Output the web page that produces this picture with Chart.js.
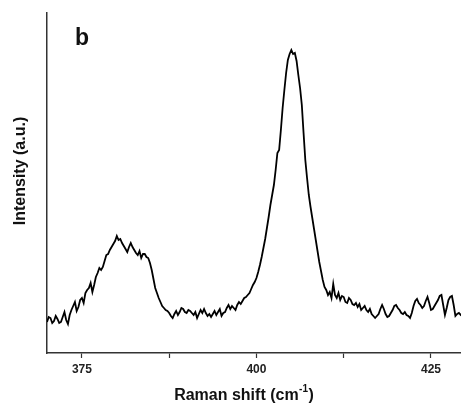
<!DOCTYPE html>
<html>
<head>
<meta charset="utf-8">
<script src="https://cdn.jsdelivr.net/npm/chart.js@4"></script>
<style>
html,body{margin:0;padding:0;background:#fff;}
#wrap{width:461px;height:403px;}
</style>
</head>
<body>
<div id="wrap"><canvas id="c" width="461" height="403"></canvas></div>
<script>
const ramanShift = [
370,370.25,370.5,370.75,371,371.25,371.5,371.75,372,372.25,372.5,372.75,373,373.25,373.5,373.75,374,374.25,374.5,374.75,
375,375.25,375.5,375.75,376,376.25,376.5,376.75,377,377.25,377.5,377.75,378,378.25,378.5,378.75,379,379.25,379.5,379.75,
380,380.25,380.5,380.75,381,381.25,381.5,381.75,382,382.25,382.5,382.75,383,383.25,383.5,383.75,384,384.25,384.5,384.75,
385,385.25,385.5,385.75,386,386.25,386.5,386.75,387,387.25,387.5,387.75,388,388.25,388.5,388.75,389,389.25,389.5,389.75,
390,390.25,390.5,390.75,391,391.25,391.5,391.75,392,392.25,392.5,392.75,393,393.25,393.5,393.75,394,394.25,394.5,394.75,
395,395.25,395.5,395.75,396,396.25,396.5,396.75,397,397.25,397.5,397.75,398,398.25,398.5,398.75,399,399.25,399.5,399.75,
400,400.25,400.5,400.75,401,401.25,401.5,401.75,402,402.25,402.5,402.75,403,403.25,403.5,403.75,404,404.25,404.5,404.75,
405,405.25,405.5,405.75,406,406.25,406.5,406.75,407,407.25,407.5,407.75,408,408.25,408.5,408.75,409,409.25,409.5,409.75,
410,410.25,410.5,410.75,411,411.25,411.5,411.75,412,412.25,412.5,412.75,413,413.25,413.5,413.75,414,414.25,414.5,414.75,
415,415.25,415.5,415.75,416,416.25,416.5,416.75,417,417.25,417.5,417.75,418,418.25,418.5,418.75,419,419.25,419.5,419.75,
420,420.25,420.5,420.75,421,421.25,421.5,421.75,422,422.25,422.5,422.75,423,423.25,423.5,423.75,424,424.25,424.5,424.75,
425,425.25,425.5,425.75,426,426.25,426.5,426.75,427,427.25,427.5,427.75,428,428.25,428.5,428.75,429,429.25,429.5];
const intensity = [
31,36,35,30,32,37,34,30,31,36,41,33,29,38,43,47,51,42,46,53,
55,50,60,63,65,70,61,68,76,80,85,83,86,92,98,99,103,106,109,112,
117,113,114,110,107,104,101,106,110,106,103,100,98,102,95,99,99,96,95,90,
83,74,65,60,55,51,47,45,43,42,40,37,35,39,42,38,41,45,44,41,
40,43,42,40,38,41,35,39,43,40,44,40,37,39,36,39,42,38,41,44,
37,40,41,45,48,44,47,45,43,48,51,49,52,55,56,58,60,64,68,71,
75,81,88,96,105,114,125,136,148,158,168,183,200,203,223,245,263,280,293,299,
303,299,300,292,278,265,248,220,193,175,158,146,135,124,113,102,91,82,73,66,
63,58,61,55,69,58,55,60,53,57,56,51,50,55,53,49,48,50,46,49,
43,45,47,43,41,44,39,37,35,37,39,44,48,44,39,36,37,40,43,47,
48,45,43,40,39,41,38,37,35,40,47,52,54,50,48,45,47,52,56,50,
43,44,47,50,53,57,58,48,38,45,53,56,57,48,37,39,40,38,40];
const xTickLabels = [375, 400, 425];
const xTickPositions = [375, 387.5, 400, 412.5, 425];
const panelLabel = 'b';
const yTitle = 'Intensity (a.u.)';
const xTitleMain = 'Raman shift (cm';
const xTitleSup = '-1';
const xTitleEnd = ')';

const points = ramanShift.map((x, i) => ({x: x, y: intensity[i]}));
const FONT = '"Liberation Sans", Arial, sans-serif';

const textPlugin = {
  id: 'texts',
  afterDraw(chart) {
    const ctx = chart.ctx;
    ctx.save();
    ctx.fillStyle = '#111';
    ctx.textBaseline = 'alphabetic';
    ctx.font = 'bold 23px ' + FONT;
    ctx.textAlign = 'center';
    ctx.fillText(panelLabel, 82, 45);
    ctx.textAlign = 'left';
    const mainFont = 'bold 16px ' + FONT;
    const supFont = 'bold 10px ' + FONT;
    ctx.font = mainFont;
    const w1 = ctx.measureText(xTitleMain).width;
    const w3 = ctx.measureText(xTitleEnd).width;
    ctx.font = supFont;
    const w2 = ctx.measureText(xTitleSup).width + 1;
    const total = w1 + w2 + w3;
    const x0 = 244 - total / 2;
    const base = 400;
    ctx.font = mainFont;
    ctx.fillText(xTitleMain, x0, base);
    ctx.font = supFont;
    ctx.fillText(xTitleSup, x0 + w1 + 0.5, base - 8);
    ctx.font = mainFont;
    ctx.fillText(xTitleEnd, x0 + w1 + w2, base);
    ctx.translate(21, 171);
    ctx.rotate(-Math.PI / 2);
    ctx.font = 'bold 16px ' + FONT;
    ctx.textAlign = 'center';
    ctx.textBaseline = 'middle';
    ctx.fillText(yTitle, 0, 0);
    ctx.restore();
  }
};

new Chart(document.getElementById('c'), {
  type: 'line',
  data: {
    datasets: [{
      data: points,
      borderColor: '#000',
      borderWidth: 1.8,
      pointRadius: 0,
      tension: 0,
      fill: false
    }]
  },
  options: {
    responsive: false,
    animation: false,
    layout: {padding: {left: 39, top: 13, right: 0, bottom: 21}},
    plugins: {legend: {display: false}, tooltip: {enabled: false}},
    scales: {
      x: {
        type: 'linear',
        min: 370,
        max: 429.3,
        afterBuildTicks(scale) {
          scale.ticks = xTickPositions.map(v => ({value: v}));
        },
        border: {display: true, color: '#333', width: 1.5},
        grid: {display: true, drawOnChartArea: false, drawTicks: true, tickLength: 5, tickColor: '#333', tickWidth: 1.2},
        ticks: {
          autoSkip: false,
          maxRotation: 0,
          padding: 6,
          color: '#222',
          font: {family: FONT, weight: 'bold', size: 12, lineHeight: 1},
          callback: (v) => xTickLabels.includes(v) ? String(v) : ''
        },
        title: {display: false}
      },
      y: {
        min: 0,
        max: 340,
        border: {display: true, color: '#333', width: 1.5},
        grid: {display: false},
        ticks: {display: false}
      }
    }
  },
  plugins: [textPlugin]
});
</script>
</body>
</html>
